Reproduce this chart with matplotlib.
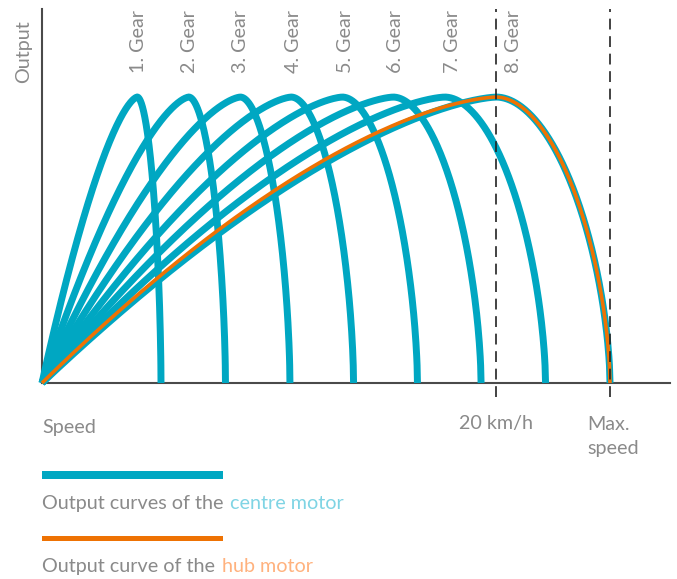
import numpy as np
import matplotlib
matplotlib.use("Agg")
import matplotlib.pyplot as plt
from matplotlib.patches import Rectangle

# ---- data -------------------------------------------------------------
gear_labels = ["1. Gear", "2. Gear", "3. Gear", "4. Gear",
               "5. Gear", "6. Gear", "7. Gear", "8. Gear"]
gear_peak_speed = [4.19, 6.46, 8.73, 10.97, 13.22, 15.46, 17.73, 20.0]   # km/h at peak output
cutoff_ratio = 1.25          # motor cut-off speed / peak speed (same in every gear)
peak_output = 1.0
hub_peak_speed = 20.0
hub_cutoff_speed = 25.0
speed_marks = [20.0, 25.0]
speed_mark_labels = ["20 km/h", "Max.\nspeed"]

# exponents of the motor characteristic (rise and fall branches)
rise_exp = 1.5
fall_exp_a, fall_exp_b = 1.9, 0.6
hub_rise_exp = 1.56

TEAL = "#00A7C2"
ORANGE = "#EE7203"
TEAL_LIGHT = "#7FD4E4"
ORANGE_LIGHT = "#FFB27E"
GRAY = "#8A8A8A"
AXIS = "#4A4A4A"

plt.rcParams["font.family"] = ["Lato", "DejaVu Sans"]
FS = 14.2

W, H = 677, 579
fig = plt.figure(figsize=(W / 100, H / 100), dpi=100)


def fx(px):
    return px / W


def fy(py):
    return 1 - py / H


ax_left, ax_right, ax_top, ax_bottom = 42, 670, 9, 383
ax = fig.add_axes([fx(ax_left), fy(ax_bottom),
                   fx(ax_right - ax_left), (ax_bottom - ax_top) / H])

x_max = 27.64
y_max = 1.308
ax.set_xlim(0, x_max)
ax.set_ylim(0, y_max)
px_per_kmh = (ax_right - ax_left) / x_max
px_per_out = (ax_bottom - ax_top) / y_max


def motor_curve(peak_v, cut_v, k_rise):
    v_up = np.linspace(0, peak_v, 200)
    t = v_up / peak_v
    y_up = peak_output * (1 - (1 - t) ** k_rise)
    v_dn = np.linspace(peak_v, cut_v, 200)
    s = (v_dn - peak_v) / (cut_v - peak_v)
    y_dn = peak_output * np.clip(1 - s ** fall_exp_a, 0, None) ** fall_exp_b
    return np.concatenate([v_up, v_dn[1:]]), np.concatenate([y_up, y_dn[1:]])


for p in gear_peak_speed:
    v, y = motor_curve(p, p * cutoff_ratio, rise_exp)
    ax.plot(v, y, color=TEAL, lw=5.0, solid_joinstyle="miter",
            solid_capstyle="butt", zorder=3, clip_on=False)

hv, hy = motor_curve(hub_peak_speed, hub_cutoff_speed, hub_rise_exp)
ax.plot(hv, hy, color=ORANGE, lw=2.6, solid_joinstyle="miter",
        solid_capstyle="butt", zorder=4, clip_on=False)

# reference speeds
for s in speed_marks:
    ax.plot([s, s], [-14 / px_per_out, y_max], color="#222222", lw=1.2,
            dashes=(6.5, 4), zorder=5, clip_on=False)

# axes: only left and bottom lines
for side in ["top", "right"]:
    ax.spines[side].set_visible(False)
for side in ["left", "bottom"]:
    ax.spines[side].set_color(AXIS)
    ax.spines[side].set_linewidth(1.5)
ax.set_xticks([])
ax.set_yticks([])
ax.patch.set_alpha(0)

# gear labels above the peaks (the last two sit clear of the dashed line)
label_shift_px = [1, 1, 0, 2, 3.5, 2.5, 8, 17]
for p, lab, dx in zip(gear_peak_speed, gear_labels, label_shift_px):
    ax.text(p + dx / px_per_kmh, (ax_bottom - 73) / px_per_out, lab,
            rotation=90, ha="center", va="bottom", fontsize=FS, color=GRAY)

fig.text(fx(23.5), fy(52), "Output", rotation=90, ha="center", va="center",
         fontsize=FS, color=GRAY)
fig.text(fx(42), fy(432.5), "Speed", ha="left", va="baseline",
         fontsize=FS, color=GRAY)
ax.text(speed_marks[0], -(429 - ax_bottom) / px_per_out, speed_mark_labels[0],
        ha="center", va="baseline", fontsize=FS, color=GRAY)
ax.text(speed_marks[1] - 23 / px_per_kmh, -(454 - ax_bottom) / px_per_out,
        speed_mark_labels[1], ha="left", va="baseline", fontsize=FS,
        color=GRAY, linespacing=1.48, multialignment="left")

# legend
fig.add_artist(Rectangle((fx(42), fy(479.3)), fx(181), 8.6 / H,
                         transform=fig.transFigure, color=TEAL, lw=0))
fig.add_artist(Rectangle((fx(42), fy(540.7)), fx(181), 5 / H,
                         transform=fig.transFigure, color=ORANGE, lw=0))

t1 = fig.text(fx(42), fy(509), "Output curves of the", ha="left",
              va="baseline", fontsize=FS, color=GRAY)
t2 = fig.text(fx(42), fy(572), "Output curve of the", ha="left",
              va="baseline", fontsize=FS, color=GRAY)
fig.canvas.draw()
r = fig.canvas.get_renderer()
gap = 7.0
for t, word, col in [(t1, "centre motor", TEAL_LIGHT), (t2, "hub motor", ORANGE_LIGHT)]:
    bb = t.get_window_extent(r)
    fig.text((bb.x1 + gap) / W, t.get_position()[1], word, ha="left",
             va="baseline", fontsize=FS, color=col)

fig.savefig("out.png", dpi=100)
